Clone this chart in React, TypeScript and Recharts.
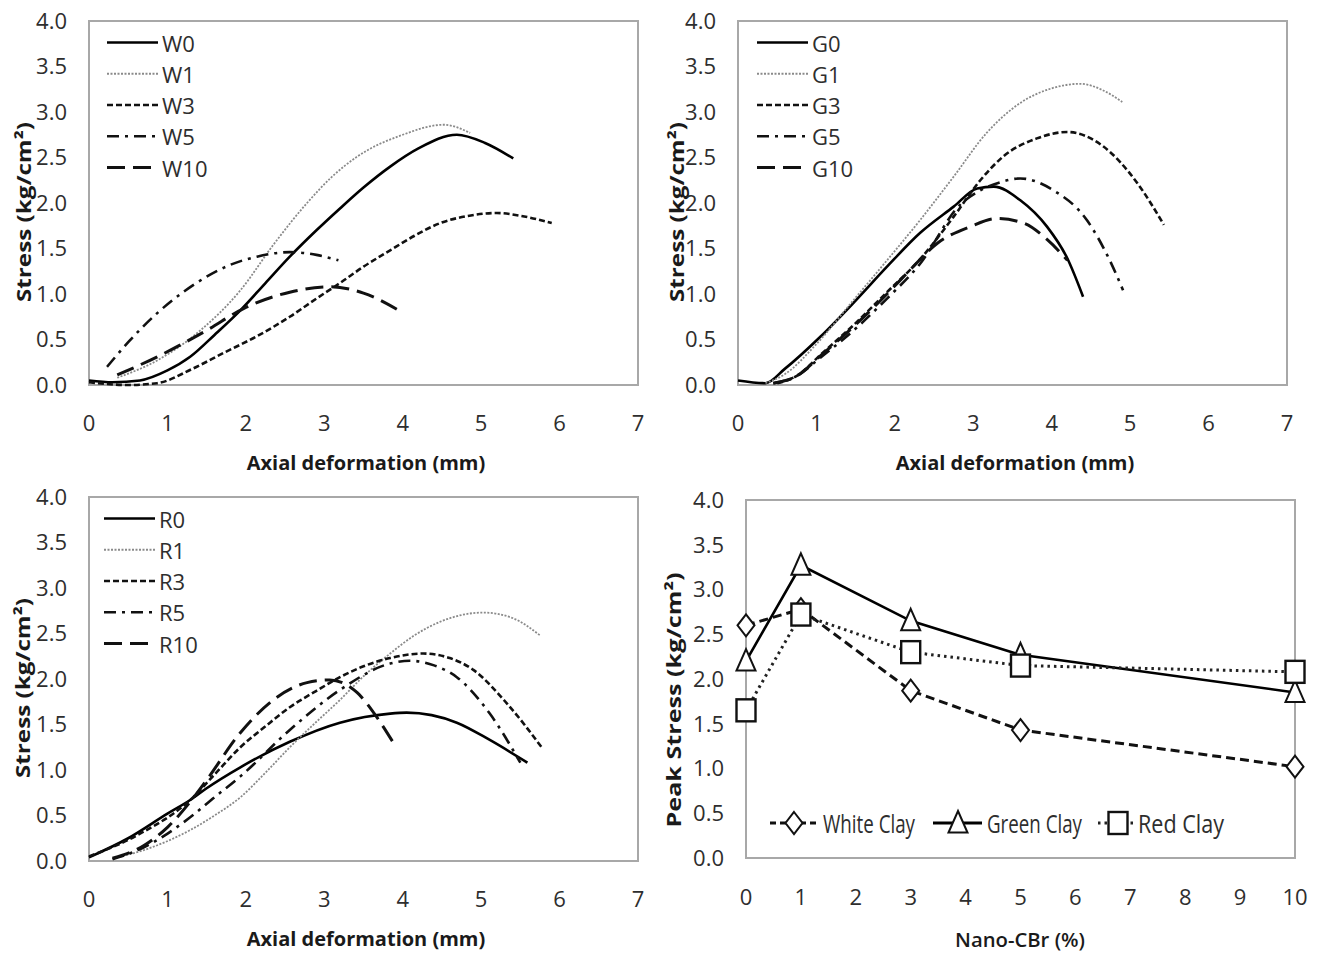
import React from 'react';
import { LineChart, Line, XAxis, YAxis, ReferenceArea, Legend, Label } from 'recharts';

// ---------- data ----------
const STRESS_Y_TICKS = [0, 0.5, 1, 1.5, 2, 2.5, 3, 3.5, 4];
const DEFORM_X_TICKS = [0, 1, 2, 3, 4, 5, 6, 7];
const CBR_X_TICKS = [0, 1, 2, 3, 4, 5, 6, 7, 8, 9, 10];

// White clay: [axial deformation (mm), stress (kg/cm2)]
const W0 = [[0, 0.05], [0.3, 0.03], [0.65, 0.05], [1.0, 0.16], [1.29, 0.31], [1.6, 0.55], [1.93, 0.82], [2.25, 1.12], [2.56, 1.41], [2.9, 1.7], [3.2, 1.94], [3.5, 2.17], [3.84, 2.4], [4.2, 2.6], [4.69, 2.75], [5.05, 2.66], [5.41, 2.49]];
const W1 = [[0.36, 0.08], [0.87, 0.27], [1.42, 0.6], [1.93, 1.04], [2.35, 1.54], [2.78, 2.0], [3.1, 2.29], [3.42, 2.51], [4.0, 2.75], [4.52, 2.86], [4.86, 2.77]];
const W3 = [[0, 0.03], [0.5, 0.0], [0.87, 0.02], [1.3, 0.17], [1.71, 0.35], [2.15, 0.54], [2.56, 0.75], [2.9, 0.95], [3.2, 1.12], [3.5, 1.3], [3.84, 1.48], [4.15, 1.64], [4.48, 1.78], [4.85, 1.86], [5.2, 1.89], [5.5, 1.86], [5.9, 1.78]];
const W5 = [[0.23, 0.2], [0.5, 0.47], [0.87, 0.79], [1.2, 1.02], [1.5, 1.19], [1.8, 1.32], [2.14, 1.41], [2.56, 1.46], [2.9, 1.43], [3.18, 1.37]];
const W10 = [[0.36, 0.11], [0.87, 0.31], [1.5, 0.6], [1.97, 0.84], [2.56, 1.02], [3.07, 1.08], [3.5, 1.01], [3.99, 0.8]];

// Green clay
const G0 = [[0, 0.05], [0.35, 0.02], [0.6, 0.18], [1.05, 0.53], [1.47, 0.9], [1.9, 1.3], [2.32, 1.67], [2.75, 1.96], [3.05, 2.16], [3.26, 2.18], [3.6, 2.03], [3.94, 1.74], [4.2, 1.39], [4.4, 0.97]];
const G1 = [[0.35, 0.02], [0.6, 0.12], [1.0, 0.45], [1.47, 0.93], [1.9, 1.37], [2.32, 1.81], [2.75, 2.29], [3.17, 2.77], [3.6, 3.1], [4.0, 3.26], [4.36, 3.31], [4.65, 3.24], [4.9, 3.11]];
const G3 = [[0.5, 0.02], [0.75, 0.1], [1.05, 0.33], [1.5, 0.68], [1.9, 1.02], [2.32, 1.38], [2.75, 1.85], [3.09, 2.25], [3.38, 2.51], [3.81, 2.71], [4.2, 2.78], [4.66, 2.62], [5.09, 2.22], [5.43, 1.76]];
const G5 = [[0.45, 0.02], [0.75, 0.1], [1.05, 0.3], [1.5, 0.62], [1.9, 0.95], [2.32, 1.33], [2.83, 1.98], [3.09, 2.14], [3.35, 2.23], [3.6, 2.27], [4.02, 2.14], [4.45, 1.81], [4.74, 1.37], [4.91, 1.04]];
const G10 = [[0.45, 0.02], [0.75, 0.1], [1.05, 0.32], [1.47, 0.64], [1.9, 1.0], [2.2, 1.27], [2.53, 1.55], [2.96, 1.74], [3.3, 1.83], [3.64, 1.78], [3.94, 1.6], [4.2, 1.37]];

// Red clay
const R0 = [[0, 0.04], [0.5, 0.25], [1.0, 0.52], [1.29, 0.67], [1.5, 0.8], [1.93, 1.03], [2.56, 1.31], [3.2, 1.52], [3.84, 1.62], [4.05, 1.63], [4.69, 1.52], [5.11, 1.33], [5.59, 1.08]];
const R1 = [[0.3, 0.03], [0.7, 0.12], [1.29, 0.34], [1.6, 0.5], [1.93, 0.7], [2.25, 0.97], [2.56, 1.25], [2.9, 1.53], [3.2, 1.77], [3.5, 2.03], [3.84, 2.28], [4.15, 2.48], [4.48, 2.63], [5.03, 2.73], [5.4, 2.67], [5.75, 2.48]];
const R3 = [[0, 0.05], [0.65, 0.3], [1.29, 0.67], [1.6, 0.95], [1.93, 1.25], [2.25, 1.48], [2.56, 1.69], [2.9, 1.87], [3.2, 2.02], [3.5, 2.14], [3.84, 2.23], [4.26, 2.28], [4.6, 2.23], [4.9, 2.1], [5.33, 1.73], [5.78, 1.24]];
const R5 = [[0.3, 0.02], [0.7, 0.15], [1.29, 0.48], [1.6, 0.7], [1.93, 0.93], [2.56, 1.44], [3.2, 1.88], [3.84, 2.17], [4.09, 2.2], [4.4, 2.15], [4.69, 2.02], [5.11, 1.62], [5.5, 1.08]];
const R10 = [[0.3, 0.03], [0.7, 0.17], [1.0, 0.37], [1.29, 0.65], [1.5, 0.89], [1.93, 1.41], [2.35, 1.77], [2.78, 1.96], [3.07, 1.99], [3.42, 1.85], [3.67, 1.58], [3.88, 1.3]];

// Peak stress vs Nano-CBr
const CBR_PERCENT = [0, 1, 3, 5, 10];
const WHITE_PEAK = [2.6, 2.78, 1.87, 1.43, 1.02];
const GREEN_PEAK = [2.2, 3.27, 2.65, 2.27, 1.85];
const RED_PEAK = [1.65, 2.72, 2.3, 2.15, 2.08];

// ---------- styles ----------
const FONT = "'Open Sans', 'DejaVu Sans', sans-serif";
const LINE_STYLES: Record<string, any> = {
  solid: { stroke: '#000', strokeWidth: 2.6 },
  dotted: { stroke: '#8a8a8a', strokeWidth: 1.8, strokeDasharray: '2 1.5' },
  short: { stroke: '#111', strokeWidth: 2.6, strokeDasharray: '6 3' },
  dashdot: { stroke: '#111', strokeWidth: 2.6, strokeDasharray: '12 6 3 6' },
  long: { stroke: '#111', strokeWidth: 3, strokeDasharray: '18 8' },
};
const STYLE_ORDER = ['solid', 'dotted', 'short', 'dashdot', 'long'];

const W_SERIES = [['W0', W0], ['W1', W1], ['W3', W3], ['W5', W5], ['W10', W10]];
const G_SERIES = [['G0', G0], ['G1', G1], ['G3', G3], ['G5', G5], ['G10', G10]];
const R_SERIES = [['R0', R0], ['R1', R1], ['R3', R3], ['R5', R5], ['R10', R10]];

const toPoints = (pts: number[][]) => pts.map(([x, y]) => ({ x, y }));
const fmt1 = (v: number) => v.toFixed(1);

const tickStyle = { fill: '#2e2e2e', fontSize: 22, fontFamily: FONT };

function StressLegend({ items }: { items: any[] }) {
  return (
    <svg width={120} height={165} style={{ display: 'block', overflow: 'visible' }}>
      {items.map(([name], i) => {
        const st = LINE_STYLES[STYLE_ORDER[i]];
        const y = 15.5 + i * 31.25;
        return (
          <g key={name}>
            <line x1={0} x2={51} y1={y} y2={y} stroke={st.stroke} strokeWidth={st.strokeWidth} strokeDasharray={st.strokeDasharray} />
            <text x={55} y={y} dominantBaseline="central" fontFamily={FONT} fontSize={22} fill="#2e2e2e">{name}</text>
          </g>
        );
      })}
    </svg>
  );
}

function StressPanel({ left, top, series, legendLeft, yTitleX }: any) {
  return (
    <div style={{ position: 'absolute', left, top }}>
      <LineChart width={660} height={480} margin={{ top: 21, right: 22, bottom: 35, left: 0 }}>
        <XAxis type="number" dataKey="x" domain={[0, 7]} ticks={DEFORM_X_TICKS} interval={0}
          axisLine={false} tickLine={false} tickSize={0} tickMargin={30} height={60} tick={tickStyle}>
          <Label content={() => (
            <text x={366} y={470} textAnchor="middle" fontFamily={FONT} fontWeight={700} fontSize={20} fill="#1a1a1a">Axial deformation (mm)</text>
          )} />
        </XAxis>
        <YAxis type="number" domain={[0, 4]} ticks={STRESS_Y_TICKS} interval={0} tickFormatter={fmt1}
          width={89} axisLine={false} tickLine={false} tickSize={0} tickMargin={22} tick={tickStyle}>
          <Label content={() => (
            <text x={0} y={0} transform={`translate(${yTitleX},212) rotate(-90)`} textAnchor="middle" dominantBaseline="central"
              fontFamily={FONT} fontWeight={700} fontSize={20} fill="#1a1a1a" textLength={180} lengthAdjust="spacingAndGlyphs">Stress (kg/cm²)</text>
          )} />
        </YAxis>
        <ReferenceArea x1={0} x2={7} y1={0} y2={4} fill="none" stroke="#a8a8a8" strokeWidth={2} ifOverflow="visible" />
        {series.map(([name, pts]: any, i: number) => (
          <Line key={name} name={name} data={toPoints(pts)} dataKey="y" type="monotone" dot={false}
            isAnimationActive={false} {...LINE_STYLES[STYLE_ORDER[i]]} />
        ))}
        <Legend layout="vertical" align="center" verticalAlign="middle"
          wrapperStyle={{ position: 'absolute', left: legendLeft, top: 26.5, width: 120, height: 165 }}
          content={() => <StressLegend items={series} />} />
      </LineChart>
    </div>
  );
}

function Diamond({ cx, cy }: any) {
  if (cx == null || cy == null) return null;
  return <path d={`M${cx},${cy - 11} L${cx + 8.5},${cy} L${cx},${cy + 11} L${cx - 8.5},${cy} Z`} fill="#fff" stroke="#111" strokeWidth={2} />;
}
function Triangle({ cx, cy }: any) {
  if (cx == null || cy == null) return null;
  return <path d={`M${cx},${cy - 12} L${cx + 9.5},${cy + 9.5} L${cx - 9.5},${cy + 9.5} Z`} fill="#fff" stroke="#111" strokeWidth={2} />;
}
function Square({ cx, cy }: any) {
  if (cx == null || cy == null) return null;
  return <rect x={cx - 9.5} y={cy - 11} width={19} height={22} fill="#fff" stroke="#111" strokeWidth={2.4} />;
}

const PEAK_SERIES = [
  { key: 'white', name: 'White Clay', stroke: '#111', strokeWidth: 3, dash: '9 5', Marker: Diamond },
  { key: 'green', name: 'Green Clay', stroke: '#000', strokeWidth: 2.6, dash: undefined, Marker: Triangle },
  { key: 'red', name: 'Red Clay', stroke: '#222', strokeWidth: 3, dash: '2.5 4', Marker: Square },
];

function PeakLegend() {
  const cy = 20;
  return (
    <svg width={660} height={40} style={{ display: 'block', overflow: 'visible' }}>
      <line x1={113} x2={161} y1={cy} y2={cy} stroke="#111" strokeWidth={3} strokeDasharray="6 4" />
      <Diamond cx={137} cy={cy} />
      <text x={166} y={cy} dominantBaseline="central" fontFamily={FONT} fontSize={26} fill="#2e2e2e" textLength={92} lengthAdjust="spacingAndGlyphs">White Clay</text>
      <line x1={276} x2={325} y1={cy} y2={cy} stroke="#000" strokeWidth={3} />
      <Triangle cx={301} cy={cy} />
      <text x={330} y={cy} dominantBaseline="central" fontFamily={FONT} fontSize={26} fill="#2e2e2e" textLength={95} lengthAdjust="spacingAndGlyphs">Green Clay</text>
      <line x1={441} x2={476} y1={cy} y2={cy} stroke="#222" strokeWidth={3} strokeDasharray="2.5 4" />
      <Square cx={461} cy={cy} />
      <text x={481} y={cy} dominantBaseline="central" fontFamily={FONT} fontSize={26} fill="#2e2e2e" textLength={86} lengthAdjust="spacingAndGlyphs">Red Clay</text>
    </svg>
  );
}

function PeakPanel({ left, top }: any) {
  const data = CBR_PERCENT.map((p, i) => ({ p, white: WHITE_PEAK[i], green: GREEN_PEAK[i], red: RED_PEAK[i] }));
  return (
    <div style={{ position: 'absolute', left, top }}>
      <LineChart width={660} height={479} data={data} margin={{ top: 21, right: 22, bottom: 40, left: 0 }}>
        <XAxis type="number" dataKey="p" domain={[0, 10]} ticks={CBR_X_TICKS} interval={0}
          axisLine={false} tickLine={false} tickSize={0} tickMargin={31} height={60} tick={tickStyle}>
          <Label content={() => (
            <text x={363} y={468} textAnchor="middle" fontFamily={FONT} fontWeight={600} fontSize={20} fill="#1a1a1a" textLength={130} lengthAdjust="spacingAndGlyphs">Nano-CBr (%)</text>
          )} />
        </XAxis>
        <YAxis type="number" domain={[0, 4]} ticks={STRESS_Y_TICKS} interval={0} tickFormatter={fmt1}
          width={89} axisLine={false} tickLine={false} tickSize={0} tickMargin={22} tick={tickStyle}>
          <Label content={() => (
            <text x={0} y={0} transform="translate(16,221) rotate(-90)" textAnchor="middle" dominantBaseline="central"
              fontFamily={FONT} fontWeight={700} fontSize={20} fill="#1a1a1a" textLength={255} lengthAdjust="spacingAndGlyphs">Peak Stress (kg/cm²)</text>
          )} />
        </YAxis>
        <ReferenceArea x1={0} x2={10} y1={0} y2={4} fill="none" stroke="#a8a8a8" strokeWidth={2} ifOverflow="visible" />
        {PEAK_SERIES.map((s) => (
          <Line key={s.key} name={s.name} dataKey={s.key} type="linear" stroke={s.stroke} strokeWidth={s.strokeWidth}
            strokeDasharray={s.dash} isAnimationActive={false}
            dot={(props: any) => <s.Marker key={`${s.key}-${props.index}`} cx={props.cx} cy={props.cy} />} />
        ))}
        <Legend layout="vertical" align="center" verticalAlign="middle"
          wrapperStyle={{ position: 'absolute', left: 0, top: 324, width: 660, height: 40 }}
          content={() => <PeakLegend />} />
      </LineChart>
    </div>
  );
}

export default function App() {
  return (
    <div style={{ position: 'absolute', left: 0, top: 0, width: 1320, height: 958, background: '#fff', overflow: 'hidden' }}>
      <StressPanel left={0} top={0} series={W_SERIES} legendLeft={107} yTitleX={23} />
      <StressPanel left={649} top={0} series={G_SERIES} legendLeft={108} yTitleX={27} />
      <StressPanel left={0} top={476} series={R_SERIES} legendLeft={104} yTitleX={22} />
      <PeakPanel left={657} top={479} />
    </div>
  );
}
